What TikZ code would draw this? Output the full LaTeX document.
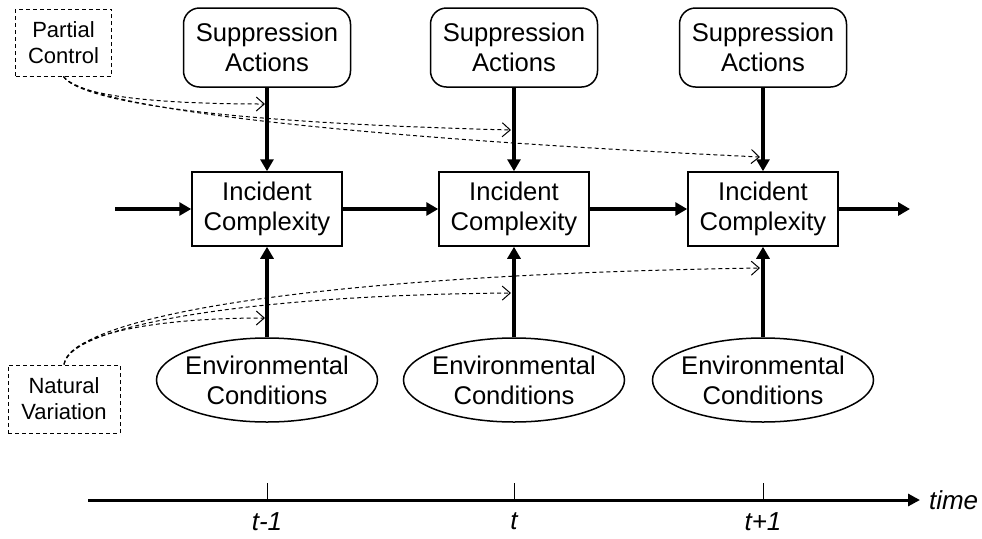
\documentclass[tikz,border=0pt]{standalone}
\usepackage{fontspec}
\setmainfont{Liberation Sans}
\usetikzlibrary{shapes.geometric,arrows.meta}

\tikzset{
  big/.style={font=\fontsize{12.8}{15}\selectfont},
  supbox/.style={big,draw,line width=0.75pt,rounded corners=8pt,minimum width=83.5pt,minimum height=39.5pt,align=center},
  incbox/.style={big,draw,line width=0.75pt,minimum width=75pt,minimum height=37pt,align=center},
  envbox/.style={big,draw,ellipse,line width=0.75pt,minimum width=110.5pt,minimum height=42pt,inner sep=-3pt,align=center},
  srcbox/.style={draw,dash pattern=on 2pt off 1.5pt,line width=0.5pt,align=center,font=\fontsize{11}{13}\selectfont},
  flow/.style={line width=2pt,-{Triangle[length=6pt,width=6.5pt]}},
  effect/.style={dash pattern=on 2pt off 1.5pt,line width=0.5pt,-{Straight Barb[length=4pt,width=7pt]}},
  tlabel/.style={font=\fontsize{13}{15}\selectfont\itshape},
}

\begin{document}
\begin{tikzpicture}[x=0.5pt,y=-0.5pt]
\useasboundingbox (0,0) rectangle (982,538);

% the three time steps
\foreach \n/\x in {1/267,2/514,3/763}{
  \node[supbox] (s\n) at (\x,47.5) {Suppression\\Actions};
  \node[incbox] (i\n) at (\x,209) {Incident\\Complexity};
  \node[envbox] (e\n) at (\x,380) {Environmental\\Conditions};
  \draw[flow] (s\n) -- (i\n);
  \draw[flow] (e\n) -- (i\n);
}

% carry-over of complexity
\coordinate (in) at (115,209);
\coordinate (out) at (910,209);
\draw[flow] (in) -- (i1);
\draw[flow] (i1) -- (i2);
\draw[flow] (i2) -- (i3);
\draw[flow] (i3) -- (out);

% partial control of suppression
\node[srcbox,minimum width=48pt,minimum height=33.5pt] (pc) at (63.5,42.5) {Partial\\Control};
\coordinate (pa1) at (265,104);
\coordinate (pa2) at (511,130);
\coordinate (pa3) at (760,157);
\draw[effect] (pc.south) .. controls (75,95) and (150,104) .. (pa1);
\draw[effect] (pc.south) .. controls (80,100) and (200,122) .. (pa2);
\draw[effect] (pc.south) .. controls (85,105) and (300,135) .. (pa3);

% natural variation of conditions
\node[srcbox,minimum width=56pt,minimum height=34pt] (nv) at (64,399) {Natural\\Variation};
\coordinate (na1) at (265,318);
\coordinate (na2) at (511,293);
\coordinate (na3) at (760,268);
\draw[effect] (nv.north) .. controls (68,335) and (150,318) .. (na1);
\draw[effect] (nv.north) .. controls (70,325) and (250,295) .. (na2);
\draw[effect] (nv.north) .. controls (72,318) and (300,275) .. (na3);

% time axis
\coordinate (t0) at (88,500);
\coordinate (t1) at (920,500);
\draw[line width=1.5pt,-{Triangle[length=6pt,width=6pt]}] (t0) -- (t1);
\node[tlabel,right=1pt] (tm) at (t1) {time};
\foreach \n/\x/\t in {1/267/t-1,2/514/t,3/763/t+1}{
  \coordinate (tk\n) at (\x,500);
  \draw[line width=0.5pt] (tk\n) -- ++(0,-17);
  \node[tlabel,below=3pt] (tl\n) at (tk\n) {\t};
}
\end{tikzpicture}
\end{document}
